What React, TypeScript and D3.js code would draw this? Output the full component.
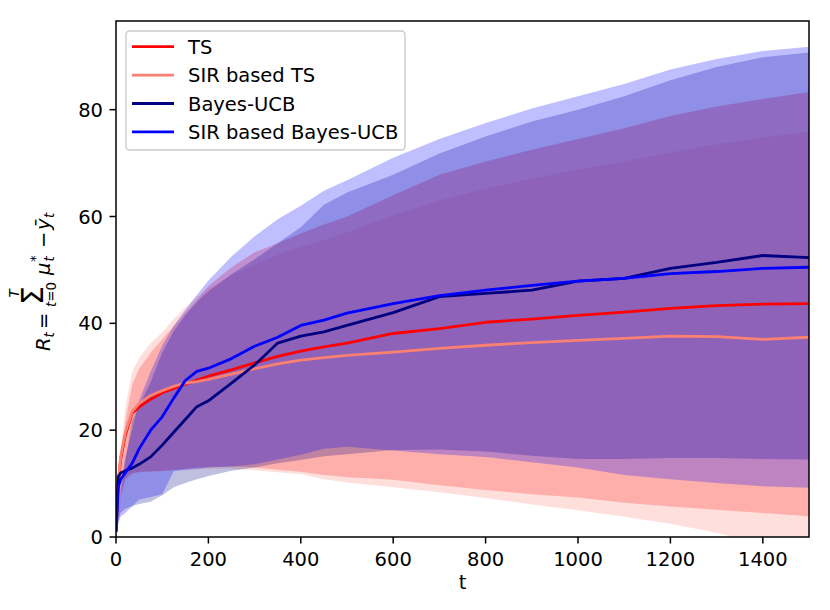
import * as d3 from 'd3';

// time grid shared by every series (non-uniform: denser near t = 0)
const tGrid = [0, 5, 10, 20, 35, 50, 75, 100, 125, 150, 175, 200, 250, 300, 350, 400, 450, 500, 600, 700, 800, 900, 1000, 1100, 1200, 1300, 1400, 1500];

const tsMean = [1, 10, 14.5, 19, 23.2, 24.3, 25.8, 27, 27.8, 28.6, 29.4, 30.1, 31.3, 32.6, 33.8, 34.8, 35.6, 36.3, 38.1, 39, 40.2, 40.8, 41.5, 42.1, 42.8, 43.3, 43.6, 43.7];
const tsLow = [0, 4, 8, 11, 12, 12.2, 12.3, 12.4, 12.6, 12.8, 13, 13.1, 13.2, 13, 12.6, 12.2, 11.6, 11.2, 10.7, 9.7, 8.8, 8, 7.4, 6.4, 5.7, 5.1, 4.5, 3.9];
const tsHigh = [0, 8, 14, 21.5, 28.5, 31.5, 34.5, 37, 39.5, 42, 44.3, 47, 50.5, 53.3, 55, 56.8, 58.5, 60, 64, 67.8, 70.3, 72.5, 74.5, 76.5, 78.8, 80.6, 82, 83.3];

const sirTsMean = [1, 10.5, 15, 19.5, 23.5, 25, 26.5, 27.4, 28.2, 28.8, 29.1, 29.5, 30.5, 31.5, 32.4, 33.1, 33.6, 34, 34.6, 35.3, 35.9, 36.4, 36.8, 37.2, 37.6, 37.5, 37, 37.4];
const sirTsLow = [0, 3, 7, 10.5, 11.8, 12.1, 12.2, 12.3, 12.5, 12.6, 12.7, 12.8, 12.8, 12.5, 12.1, 11.8, 10.8, 10.2, 9.3, 8.4, 7.3, 6.1, 5, 3.8, 2.5, 0.8, -1.5, -3.2];
const sirTsHigh = [0, 10, 16, 24, 31, 33.5, 36.3, 38.3, 40.8, 43, 45, 46.5, 49, 51, 52.8, 54.3, 55.6, 57, 60.3, 63, 65.2, 67, 68.8, 70.3, 72, 73.5, 74.8, 75.8];

const ucbMean = [1, 11.3, 12, 12.4, 12.9, 13.6, 15, 17.2, 19.6, 22, 24.4, 25.5, 28.8, 32.2, 36.3, 37.6, 38.4, 39.6, 42, 45, 45.6, 46.2, 47.9, 48.4, 50.3, 51.4, 52.7, 52.3];
const ucbLow = [0, 3, 4.5, 5.3, 5.8, 6.2, 6.6, 7.8, 9.3, 10.1, 10.8, 11.4, 12.4, 13, 13.8, 14.4, 15.1, 15.5, 16.3, 16.4, 16, 15.2, 14.6, 14.6, 14.8, 14.8, 14.6, 14.5];
const ucbHigh = [0, 4, 8, 14, 21.9, 24.5, 29, 34.5, 38.5, 41.5, 44, 46, 49.2, 52, 55, 58, 62.2, 64.5, 67.8, 71.8, 75, 77.8, 80, 82.5, 85.5, 88, 89.8, 90.7];

const sirUcbMean = [1, 9.4, 10.8, 12, 13.8, 16.5, 20, 22.5, 26, 29.3, 31, 31.6, 33.4, 35.7, 37.4, 39.6, 40.6, 41.9, 43.7, 45.2, 46.2, 47.1, 47.9, 48.4, 49.3, 49.7, 50.3, 50.5];
const sirUcbLow = [0, 2.5, 3.8, 4.5, 5.7, 7, 7.5, 8, 12.3, 12.6, 12.8, 13, 13.2, 13.6, 14.5, 15.4, 16.5, 16.9, 16.2, 15.5, 15, 14, 13, 11.6, 10.8, 10.1, 9.5, 9.2];
const sirUcbHigh = [0, 6, 10, 15, 20, 25.5, 31, 35.8, 39.5, 42.5, 45.3, 48, 52.5, 56.3, 59.5, 62, 64.8, 66.8, 71, 74.5, 77.5, 80.2, 82.5, 84.8, 87.5, 89.5, 91, 91.8];

const xTicks = [0, 200, 400, 600, 800, 1000, 1200, 1400];
const yTicks = [0, 20, 40, 60, 80];

const series = [
  { name: 'TS', color: '#ff0000', mean: tsMean, low: tsLow, high: tsHigh },
  { name: 'SIR based TS', color: '#fa8072', mean: sirTsMean, low: sirTsLow, high: sirTsHigh },
  { name: 'Bayes-UCB', color: '#000080', mean: ucbMean, low: ucbLow, high: ucbHigh },
  { name: 'SIR based Bayes-UCB', color: '#0000ff', mean: sirUcbMean, low: sirUcbLow, high: sirUcbHigh },
];

const W = 830;
const H = 610;
const margin = { top: 21, right: 21, bottom: 73, left: 116 };
const FONT = 'DejaVu Sans, sans-serif';
const FS = 19.5;
const SUB = 13.5;

export default function App() {
  const iw = W - margin.left - margin.right;
  const ih = H - margin.top - margin.bottom;

  const x = d3.scaleLinear().domain([0, 1500]).range([0, iw]);
  const y = d3.scaleLinear().domain([0, 96.6]).range([ih, 0]);

  const area = (low: number[], high: number[]) =>
    d3
      .area<number>()
      .x((t) => x(t))
      .y0((_, i) => y(low[i]))
      .y1((_, i) => y(high[i]))(tGrid) ?? '';

  const line = (vals: number[]) =>
    d3
      .line<number>()
      .x((t) => x(t))
      .y((_, i) => y(vals[i]))(tGrid) ?? '';

  const legendX = 126 - margin.left;
  const legendY = 31 - margin.top;
  const rowH = 28.4;

  return (
    <div style={{ position: 'fixed', left: 0, top: 0 }}>
      <svg width={W} height={H} style={{ display: 'block', background: '#fff' }} fontFamily={FONT}>
        <defs>
          <clipPath id="plot-clip">
            <rect x={0} y={0} width={iw} height={ih} />
          </clipPath>
        </defs>
        <g transform={`translate(${margin.left},${margin.top})`}>
          <g clipPath="url(#plot-clip)">
            {series.map((s) => (
              <path key={`band-${s.name}`} d={area(s.low, s.high)} fill={s.color} fillOpacity={0.25} stroke="none" />
            ))}
            {series.map((s) => (
              <path
                key={`line-${s.name}`}
                d={line(s.mean)}
                fill="none"
                stroke={s.color}
                strokeWidth={2.8}
                strokeLinejoin="round"
              />
            ))}
          </g>

          {/* x axis */}
          {xTicks.map((t) => (
            <g key={`xt-${t}`} transform={`translate(${x(t)},${ih})`}>
              <line y1={0} y2={6.5} stroke="#000" strokeWidth={1.5} />
              <text y={29} textAnchor="middle" fontSize={FS} fill="#000">
                {t}
              </text>
            </g>
          ))}
          <text x={iw / 2} y={ih + 52} textAnchor="middle" fontSize={FS} fill="#000">
            t
          </text>

          {/* y axis */}
          {yTicks.map((v) => (
            <g key={`yt-${v}`} transform={`translate(0,${y(v)})`}>
              <line x1={0} x2={-6.5} stroke="#000" strokeWidth={1.5} />
              <text x={-13} dy="0.36em" textAnchor="end" fontSize={FS} fill="#000">
                {v}
              </text>
            </g>
          ))}

          <rect x={0} y={0} width={iw} height={ih} fill="none" stroke="#000" strokeWidth={1.5} />

          {/* legend */}
          <g transform={`translate(${legendX},${legendY})`}>
            <rect x={0} y={0} width={279} height={119} rx={3.5} fill="#fff" fillOpacity={0.8} stroke="#cccccc" strokeWidth={1.4} />
            {series.map((s, i) => (
              <g key={`lg-${s.name}`} transform={`translate(0,${15.7 + i * rowH})`}>
                <line x1={6} x2={48} y1={0} y2={0} stroke={s.color} strokeWidth={2.8} />
                <text x={62} dy="0.36em" fontSize={FS} fill="#000">
                  {s.name}
                </text>
              </g>
            ))}
          </g>
        </g>

        {/* y label: R_t = sum_{t=0}^{T} mu_t^* - ybar_t */}
        <g transform="translate(50,280) rotate(-90)" fill="#000">
          <text x={-71} y={0} fontSize={FS} fontStyle="italic">R</text>
          <text x={-57.5} y={4} fontSize={SUB} fontStyle="italic">t</text>
          <text x={-49} y={0} fontSize={FS}>=</text>
          <text x={-25} y={-7} fontSize={30}>Σ</text>
          <text x={-17.5} y={-31} fontSize={SUB} fontStyle="italic">T</text>
          <text x={-27} y={6} fontSize={SUB}>
            <tspan fontStyle="italic">t</tspan>=0
          </text>
          <text x={5} y={0} fontSize={FS} fontStyle="italic">μ</text>
          <text x={18} y={-10} fontSize={SUB}>*</text>
          <text x={18.5} y={4} fontSize={SUB} fontStyle="italic">t</text>
          <text x={32} y={0} fontSize={FS}>−</text>
          <text x={50} y={0} fontSize={FS} fontStyle="italic">ȳ</text>
          <text x={62} y={4} fontSize={SUB} fontStyle="italic">t</text>
        </g>
      </svg>
    </div>
  );
}
